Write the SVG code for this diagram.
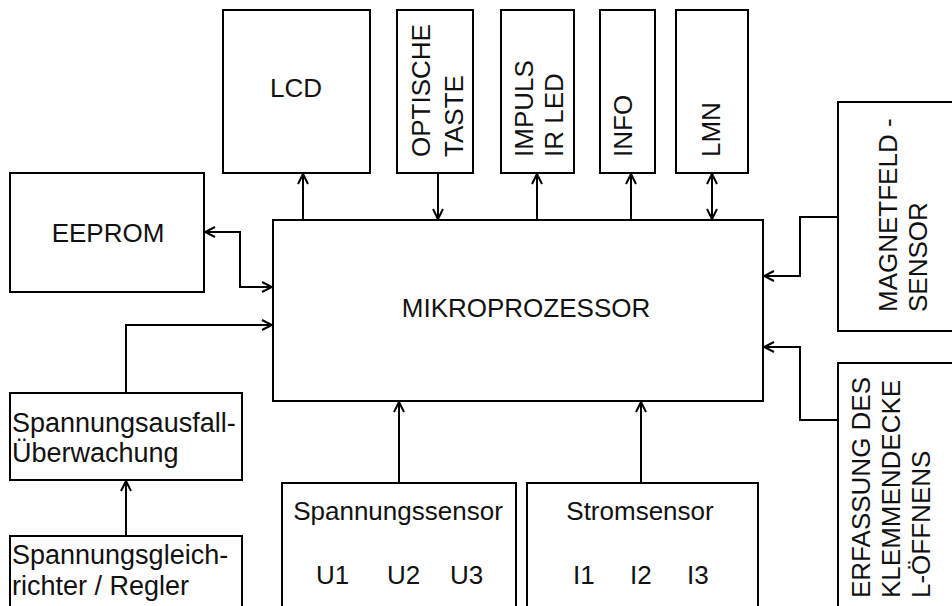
<svg xmlns="http://www.w3.org/2000/svg" width="952" height="606" viewBox="0 0 952 606">
<style>
.b{fill:#fff;stroke:#000;stroke-width:2}
.t{font-family:"Liberation Sans",Arial,sans-serif;font-size:26px;fill:#111}
.l{font-size:27px}
.c{fill:none;stroke:#000;stroke-width:2}
</style>
<defs>
<marker id="ah" viewBox="0 0 12 12" refX="11" refY="6" markerWidth="12" markerHeight="12" markerUnits="userSpaceOnUse" orient="auto-start-reverse"><path d="M1,1 L11,6 L1,11" fill="none" stroke="#000" stroke-width="2"/></marker>
</defs>
<rect width="952" height="606" fill="#fff"/>
<g id="lcd"><rect class="b" x="223" y="10" width="147" height="163"/><text class="t" x="296" y="97" text-anchor="middle">LCD</text></g>
<g id="optische"><rect class="b" x="397" y="10" width="76" height="163"/><text class="t" transform="translate(430,157) rotate(-90)">OPTISCHE</text><text class="t" transform="translate(463,157) rotate(-90)">TASTE</text></g>
<g id="impuls"><rect class="b" x="501" y="10" width="73" height="163"/><text class="t" transform="translate(533,157) rotate(-90)">IMPULS</text><text class="t" transform="translate(563,157) rotate(-90)">IR LED</text></g>
<g id="info"><rect class="b" x="600" y="10" width="55" height="163"/><text class="t" transform="translate(632,157) rotate(-90)">INFO</text></g>
<g id="lmn"><rect class="b" x="676" y="10" width="72" height="163"/><text class="t" transform="translate(720,157) rotate(-90)">LMN</text></g>
<g id="eeprom"><rect class="b" x="10" y="173" width="194" height="119"/><text class="t" x="108" y="242" text-anchor="middle">EEPROM</text></g>
<g id="mikro"><rect class="b" x="273" y="220" width="490" height="181"/><text class="t" x="526" y="317" text-anchor="middle">MIKROPROZESSOR</text></g>
<g id="magnet"><rect class="b" x="838" y="102" width="130" height="229"/><text class="t" transform="translate(897,312) rotate(-90)">MAGNETFELD -</text><text class="t" transform="translate(927,312) rotate(-90)">SENSOR</text></g>
<g id="erfassung"><rect class="b" x="838" y="363" width="130" height="260"/><text class="t" transform="translate(870,598) rotate(-90)">ERFASSUNG DES</text><text class="t" transform="translate(900,598) rotate(-90)">KLEMMENDECKE</text><text class="t" transform="translate(930,598) rotate(-90)">L-ÖFFNENS</text></g>
<g id="ausfall"><rect class="b" x="10" y="393" width="232" height="87"/><text class="t l" x="12" y="432">Spannungsausfall-</text><text class="t l" x="12" y="462">Überwachung</text></g>
<g id="gleich"><rect class="b" x="10" y="536" width="232" height="90"/><text class="t l" x="12" y="564">Spannungsgleich-</text><text class="t l" x="12" y="595">richter / Regler</text></g>
<g id="spannung"><rect class="b" x="282" y="483" width="234" height="140"/><text class="t" x="398" y="520" text-anchor="middle">Spannungssensor</text><text class="t" x="316" y="584">U1</text><text class="t" x="387" y="584">U2</text><text class="t" x="450" y="584">U3</text></g>
<g id="strom"><rect class="b" x="527" y="483" width="231" height="140"/><text class="t" x="640" y="520" text-anchor="middle">Stromsensor</text><text class="t" x="573" y="584">I1</text><text class="t" x="630" y="584">I2</text><text class="t" x="687" y="584">I3</text></g>
<g id="connectors">
<path class="c" d="M303,220 V174" marker-end="url(#ah)"/>
<path class="c" d="M438,173 V219" marker-end="url(#ah)"/>
<path class="c" d="M537,220 V174" marker-end="url(#ah)"/>
<path class="c" d="M631,220 V174" marker-end="url(#ah)"/>
<path class="c" d="M712,174 V219" marker-start="url(#ah)" marker-end="url(#ah)"/>
<path class="c" d="M205,232 H240 V287 H272" marker-start="url(#ah)" marker-end="url(#ah)"/>
<path class="c" d="M126,393 V325 H272" marker-end="url(#ah)"/>
<path class="c" d="M126,536 V481" marker-end="url(#ah)"/>
<path class="c" d="M399,483 V402" marker-end="url(#ah)"/>
<path class="c" d="M641,483 V402" marker-end="url(#ah)"/>
<path class="c" d="M838,217 H800 V276 H764" marker-end="url(#ah)"/>
<path class="c" d="M838,420 H800 V347 H764" marker-end="url(#ah)"/>
</g>
</svg>
